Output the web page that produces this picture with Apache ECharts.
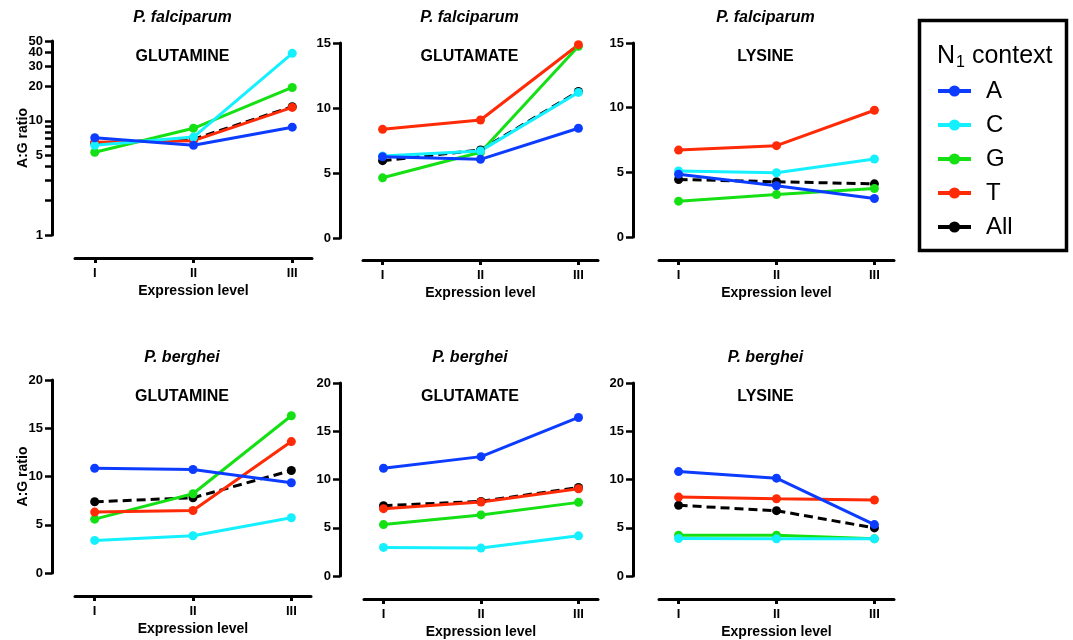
<!DOCTYPE html>
<html>
<head>
<meta charset="utf-8">
<script src="https://cdn.jsdelivr.net/npm/echarts@6/dist/echarts.min.js"></script>
<style>
  html, body { margin: 0; padding: 0; background: #fff; }
  #main { width: 1073px; height: 640px; }
</style>
</head>
<body>
<div id="main"></div>
<script>
// 数据
var levels = ["I", "II", "III"];
var contexts = ["A", "C", "G", "T", "All"];

// 每个面板: A, C, G, T, All 各一行 (I, II, III)
var pfGlutamine = [
  [7.1, 6.1, 8.8],
  [6.1, 7.2, 39],
  [5.3, 8.6, 19.6],
  [6.5, 6.7, 13.1],
  [6.4, 6.9, 13.3]
];
var pfGlutamate = [
  [6.25, 6.05, 8.44],
  [6.3, 6.7, 11.2],
  [4.63, 6.6, 14.75],
  [8.36, 9.08, 14.87],
  [5.95, 6.77, 11.27]
];
var pfLysine = [
  [4.86, 3.96, 2.98],
  [5.1, 4.97, 6.03],
  [2.77, 3.29, 3.75],
  [6.72, 7.06, 9.8],
  [4.45, 4.27, 4.11]
];
var pbGlutamine = [
  [10.86, 10.72, 9.35],
  [3.38, 3.86, 5.73],
  [5.58, 8.21, 16.3],
  [6.31, 6.48, 13.62],
  [7.38, 7.8, 10.62]
];
var pbGlutamate = [
  [11.17, 12.37, 16.43],
  [2.96, 2.89, 4.16],
  [5.33, 6.33, 7.63],
  [6.98, 7.67, 9.04],
  [7.29, 7.73, 9.18]
];
var pbLysine = [
  [10.82, 10.14, 5.33],
  [3.89, 3.85, 3.85],
  [4.23, 4.23, 3.85],
  [8.18, 8.01, 7.87],
  [7.32, 6.77, 4.98]
];

// 对数轴刻度
var logTicks = [1, 2, 3, 4, 5, 6, 7, 8, 9, 10, 20, 30, 40, 50];
// 顺序打乱一下, 避免首尾标签重叠被自动隐藏 (40/50 很挤)
var logLabels = [50, 1, 5, 10, 40, 20, 30];

var colors = ["#0c3cff", "#14f0ff", "#14e014", "#ff2a06", "#000000"];
var font = "Liberation Sans, Arial, sans-serif";

var panels = [
  { species: "P. falciparum", acid: "GLUTAMINE", values: pfGlutamine, log: true, max: 50.01, left: 75, top: 41, width: 237, height: 194, yOff: 23, xOff: 23, yName: true },
  { species: "P. falciparum", acid: "GLUTAMATE", values: pfGlutamate, max: 15, left: 363, top: 43, width: 235, height: 195, yOff: 23, xOff: 22 },
  { species: "P. falciparum", acid: "LYSINE", values: pfLysine, max: 15, left: 659, top: 43, width: 235, height: 194, yOff: 26, xOff: 23 },
  { species: "P. berghei", acid: "GLUTAMINE", values: pbGlutamine, max: 20, left: 75, top: 380, width: 236, height: 193, yOff: 23, xOff: 23, yName: true },
  { species: "P. berghei", acid: "GLUTAMATE", values: pbGlutamate, max: 20, left: 364, top: 383, width: 234, height: 194, yOff: 24, xOff: 23 },
  { species: "P. berghei", acid: "LYSINE", values: pbLysine, max: 20, left: 659, top: 383, width: 235, height: 194, yOff: 26, xOff: 23 }
];

var chart = echarts.init(document.getElementById("main"));

var grids = [], xAxes = [], yAxes = [], series = [], graphics = [];
var drawOrder = [4, 2, 3, 1, 0]; // All 在最下面

panels.forEach(function (p, gi) {
  grids.push({ left: p.left, top: p.top, width: p.width, height: p.height, containLabel: false });

  xAxes.push({
    gridIndex: gi,
    type: "value",
    min: 0.8,
    max: 3.2,
    position: "bottom",
    offset: p.xOff,
    name: "Expression level",
    nameLocation: "middle",
    nameGap: 26,
    nameMoveOverlap: false,
    nameTextStyle: { fontFamily: font, fontWeight: "bold", fontSize: 14, color: "#000" },
    axisLine: { show: true, onZero: false, lineStyle: { color: "#000", width: 3 } },
    axisTick: { show: true, length: 5, lineStyle: { color: "#000", width: 3 }, customValues: [1, 2, 3] },
    axisLabel: {
      customValues: [1, 2, 3],
      margin: 9,
      fontFamily: font, fontWeight: "bold", fontSize: 13, color: "#000",
      formatter: function (v) { return levels[Math.round(v) - 1]; }
    },
    splitLine: { show: false }
  });

  var y = {
    gridIndex: gi,
    position: "left",
    offset: p.yOff,
    axisLine: { show: true, onZero: false, lineStyle: { color: "#000", width: 3 } },
    axisTick: { show: true, length: 7, lineStyle: { color: "#000", width: 2.5 } },
    axisLabel: { margin: 9, hideOverlap: false, showMinLabel: true, showMaxLabel: true, fontFamily: font, fontWeight: "bold", fontSize: 13, color: "#000" },
    splitLine: { show: false }
  };
  if (p.log) {
    y.type = "log";
    y.logBase = 10;
    y.min = 1;
    y.max = p.max;
    y.axisTick.customValues = logTicks;
    y.axisLabel.customValues = logLabels;
    y.axisLabel.lineHeight = 10;
  } else {
    y.type = "value";
    y.min = 0;
    y.max = p.max;
    y.interval = 5;
  }
  if (p.yName) {
    y.name = "A:G ratio";
    y.nameLocation = "middle";
    y.nameGap = 22;
    y.nameMoveOverlap = false;
    y.nameTextStyle = { fontFamily: font, fontWeight: "bold", fontSize: 14, color: "#000" };
  }
  yAxes.push(y);

  drawOrder.forEach(function (ci) {
    series.push({
      name: contexts[ci],
      type: "line",
      xAxisIndex: gi,
      yAxisIndex: gi,
      data: p.values[ci].map(function (v, i) { return [i + 1, v]; }),
      symbol: "circle",
      symbolSize: 9,
      itemStyle: { color: colors[ci] },
      lineStyle: { color: colors[ci], width: 3, type: ci === 4 ? [9, 5] : "solid" },
      emphasis: { disabled: true }
    });
  });

  // 标题
  var cx = p.left + p.width / 2 - 11;
  var ty = gi < 3 ? 18 : 358;
  graphics.push({
    type: "text", x: cx, y: ty,
    style: { text: p.species, align: "center", verticalAlign: "middle", fontFamily: font, fontStyle: "italic", fontWeight: "bold", fontSize: 16, fill: "#000" }
  });
  graphics.push({
    type: "text", x: cx, y: ty + 39,
    style: { text: p.acid, align: "center", verticalAlign: "middle", fontFamily: font, fontWeight: "bold", fontSize: 16, fill: "#000" }
  });
});

// 图例框
graphics.push({
  type: "rect",
  shape: { x: 919.5, y: 20.5, width: 147, height: 230 },
  style: { fill: "none", stroke: "#000", lineWidth: 3.5 }
});
graphics.push({
  type: "text", x: 937, y: 56,
  style: {
    text: "{n|N}{s|1}{n| context}",
    verticalAlign: "middle",
    rich: {
      n: { fontFamily: font, fontSize: 25, fill: "#000" },
      s: { fontFamily: font, fontSize: 16, fill: "#000", padding: [14, 0, 0, 1] }
    }
  }
});

var option = {
  animation: false,
  backgroundColor: "#fff",
  grid: grids,
  xAxis: xAxes,
  yAxis: yAxes,
  legend: {
    orient: "vertical",
    left: 936,
    top: 79,
    padding: 0,
    itemWidth: 33,
    itemHeight: 14,
    itemGap: 10,
    selectedMode: false,
    lineStyle: { width: 4, type: "solid" },
    textStyle: { fontFamily: font, fontSize: 24, color: "#000", padding: [0, 0, 0, 10] },
    data: contexts.map(function (c) { return { name: c, lineStyle: { type: "solid" } }; })
  },
  graphic: graphics,
  series: series
};

chart.setOption(option);
</script>
</body>
</html>
